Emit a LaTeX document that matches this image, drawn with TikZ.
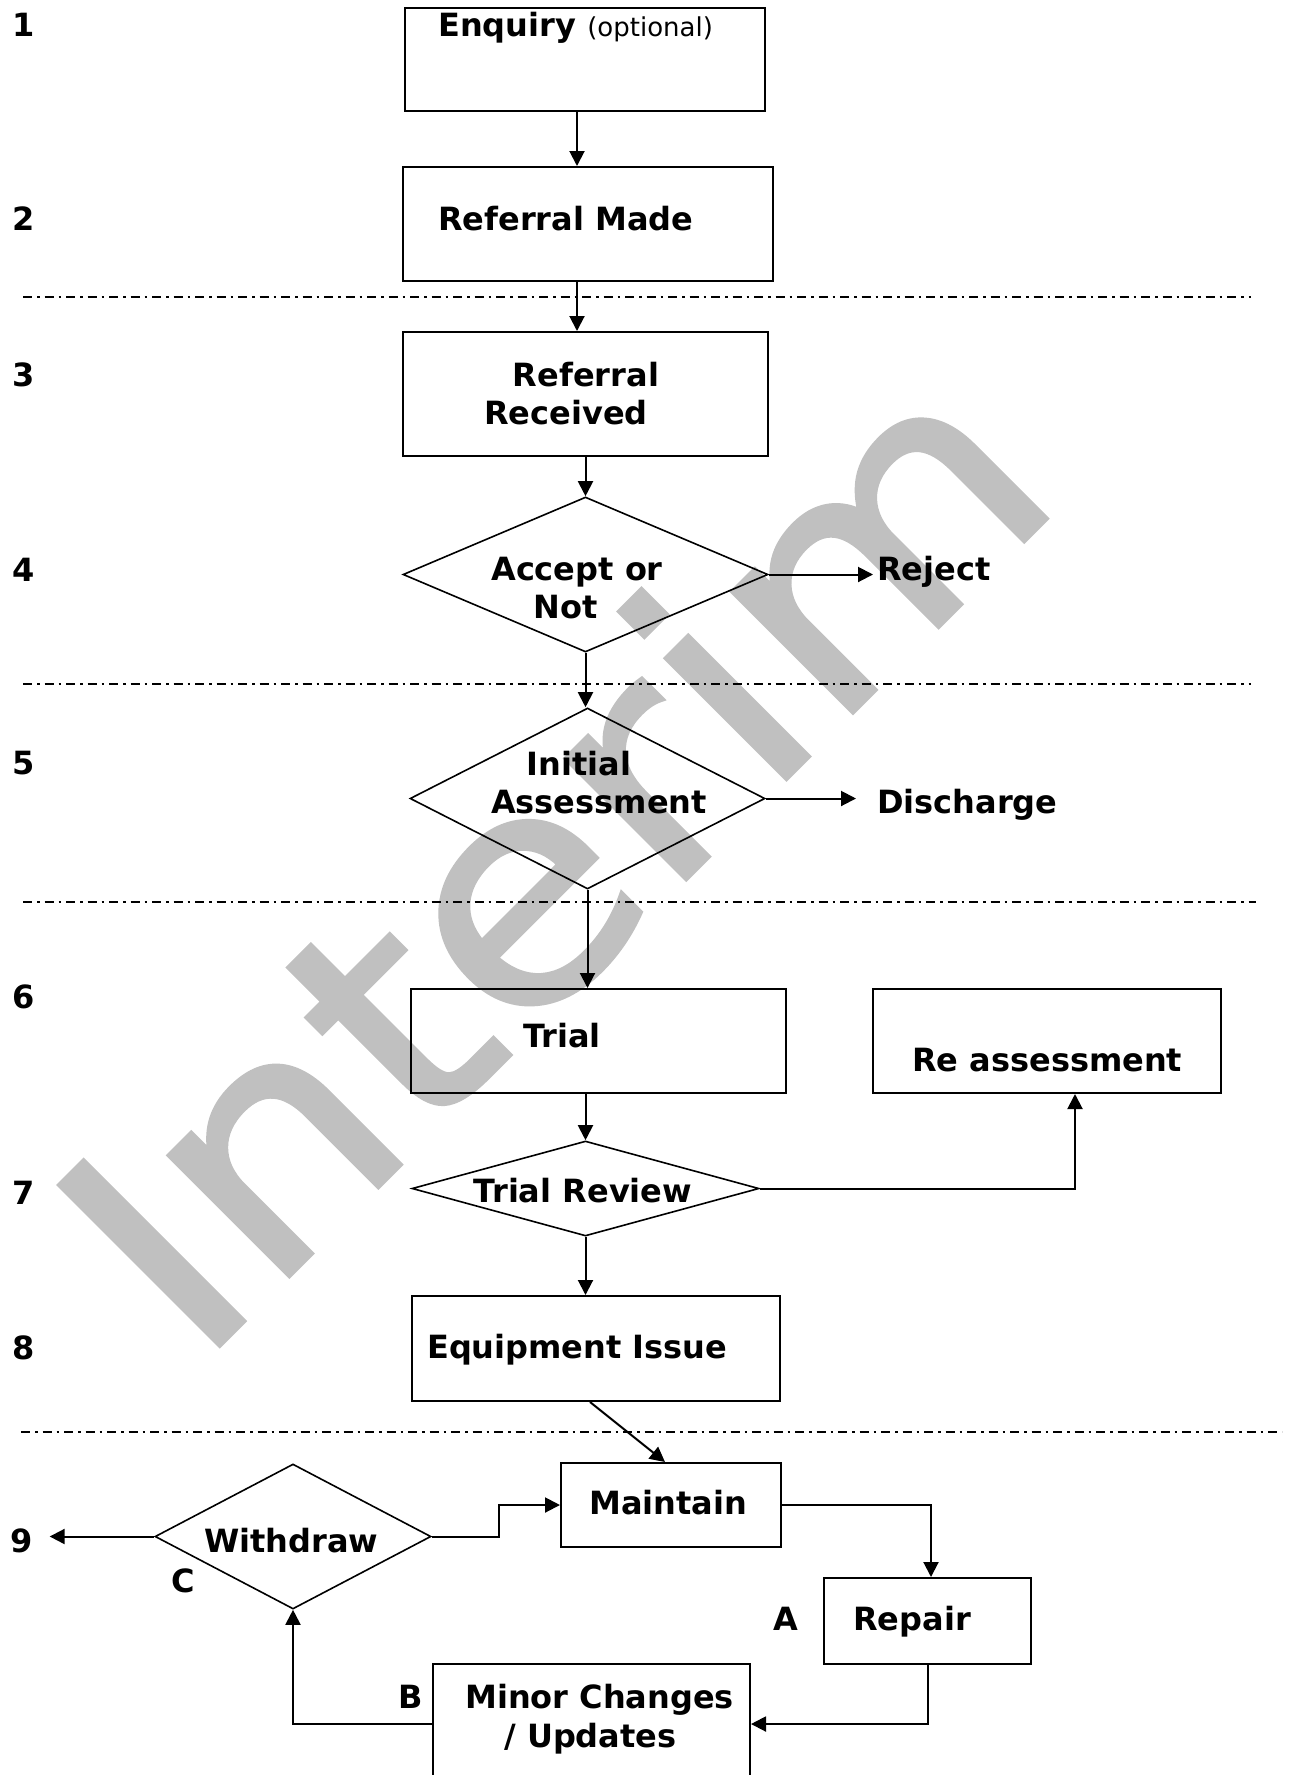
\documentclass[tikz,border=0pt]{standalone}
\usepackage{fontspec}
\setmainfont{DejaVu Sans}
\newfontfamily\wmfont[FakeBold=1.5]{DejaVu Sans}
\usetikzlibrary{arrows.meta,shapes.geometric}
\definecolor{wm}{RGB}{192,192,192}
\begin{document}
\begin{tikzpicture}[x=1pt,y=-1pt,
  box/.style={draw, line width=2pt, rectangle, inner sep=0pt},
  dia/.style={draw, line width=1.6pt, diamond, inner sep=0pt},
  txt/.style={font=\bfseries\fontsize{32}{38}\selectfont, inner sep=0pt},
  conn/.style={line width=2pt, -{Triangle[length=15pt,width=15pt]}},
  sep/.style={line width=1.5pt, dash pattern=on 9pt off 5pt on 2.5pt off 5pt}]
\useasboundingbox (0,0) rectangle (1288,1775);
\clip (0,0) rectangle (1288,1775);
\fill[white] (0,0) rectangle (1288,1775);
% watermark
\node[anchor=base west, rotate=45, inner sep=0pt, text=wm, font=\wmfont\mdseries\fontsize{311}{311}\selectfont] (wmk) at (196,1369) {\scalebox{1.1}[1]{Interim}};
% separators
\draw[sep] (23,297) -- (1251,297);
\draw[sep] (23,684) -- (1251,684);
\draw[sep] (23,902) -- (1256,902);
\draw[sep] (21,1432) -- (1282,1432);
% row numbers
\node[txt, anchor=base west] (n1) at (12,36) {1};
\node[txt, anchor=base west] (n2) at (12,230) {2};
\node[txt, anchor=base west] (n3) at (12,386) {3};
\node[txt, anchor=base west] (n4) at (12,581) {4};
\node[txt, anchor=base west] (n5) at (12,774) {5};
\node[txt, anchor=base west] (n6) at (12,1008) {6};
\node[txt, anchor=base west] (n7) at (12,1204) {7};
\node[txt, anchor=base west] (n8) at (12,1359) {8};
\node[txt, anchor=base west] (n9) at (10,1552) {9};
% boxes
\node[box, minimum width=360pt, minimum height=103pt] (enq) at (585,59.5) {};
\node[box, minimum width=370pt, minimum height=114pt] (rm) at (588,224) {};
\node[box, minimum width=365pt, minimum height=124pt] (rr) at (585.5,394) {};
\node[dia, minimum width=365pt, minimum height=155pt] (acc) at (585.5,574.5) {};
\node[dia, minimum width=355pt, minimum height=181pt] (ini) at (587.5,798.5) {};
\node[box, minimum width=375pt, minimum height=104pt] (trial) at (598.5,1041) {};
\node[box, minimum width=348pt, minimum height=104pt] (reas) at (1047,1041) {};
\node[dia, minimum width=347pt, minimum height=95pt] (trv) at (585.5,1188.5) {};
\node[box, minimum width=368pt, minimum height=105pt] (eq) at (596,1348.5) {};
\node[box, minimum width=220pt, minimum height=84pt] (mt) at (671,1505) {};
\node[dia, minimum width=276pt, minimum height=145pt] (wd) at (293,1536.5) {};
\node[box, minimum width=207pt, minimum height=86pt] (rep) at (927.5,1621) {};
\node[box, minimum width=317pt, minimum height=126pt] (mc) at (591.5,1727) {};
% texts
\node[txt, anchor=base west] (tenq) at (438,36) {Enquiry {\mdseries\fontsize{26}{30}\selectfont (optional)}};
\node[txt, anchor=base west] (trm) at (438,230) {Referral Made};
\node[txt, anchor=base] (trr1) at (586,386) {Referral};
\node[txt, anchor=base west] (trr2) at (484,424) {Received};
\node[txt, anchor=base] (tacc1) at (577,580) {Accept or};
\node[txt, anchor=base] (tacc2) at (566,618) {Not};
\node[txt, anchor=base west] (rej) at (877,580) {Reject};
\node[txt, anchor=base] (tini1) at (579,775) {Initial};
\node[txt, anchor=base] (tini2) at (599,813) {Assessment};
\node[txt, anchor=base west] (dis) at (877,813) {Discharge};
\node[txt, anchor=base west] (ttr) at (523,1047) {Trial};
\node[txt, anchor=base west] (treas) at (912,1071) {Re assessment};
\node[txt, anchor=base] (ttrv) at (583,1202) {Trial Review};
\node[txt, anchor=base west] (teq) at (427,1358) {Equipment Issue};
\node[txt, anchor=base west] (tmt) at (589,1514) {Maintain};
\node[txt, anchor=base west] (twd) at (204,1552) {Withdraw};
\node[txt, anchor=base west] (trep) at (853,1630) {Repair};
\node[txt, anchor=base west] (la) at (773,1630) {A};
\node[txt, anchor=base west] (tmc1) at (465,1708) {Minor Changes};
\node[txt, anchor=base west] (tmc2) at (504,1747) {/ Updates};
\node[txt, anchor=base west] (lb) at (398,1708) {B};
\node[txt, anchor=base west] (lc) at (171,1592) {C};
% connectors
\draw[conn] ([xshift=-8pt]enq.south) -- ([xshift=-11pt]rm.north);
\draw[conn] ([xshift=-11pt]rm.south) -- ([xshift=-8.5pt]rr.north);
\draw[conn] (rr.south -| acc.north) -- (acc.north);
\draw[conn] (acc.east) -- ([xshift=-4pt]acc.east -| rej.west);
\draw[conn] (acc.south) -- (acc.south |- ini.north);
\draw[conn] (ini.east) -- ([xshift=-21pt]ini.east -| dis.west);
\draw[conn] (ini.south) -- (ini.south |- trial.north);
\draw[conn] (trv.north |- trial.south) -- (trv.north);
\draw[conn] (trv.east) -| ([xshift=28pt]reas.south);
\draw[conn] (trv.south) -- (trv.south |- eq.north);
\draw[conn] ([xshift=-6pt]eq.south) -- ([xshift=-6pt]mt.north);
\draw[conn] (wd.east) -- ++(67,0) |- (mt.west);
\draw[conn] (mt.east) -| ([xshift=3.5pt]rep.north);
\draw[conn] (rep.south) |- ([yshift=3pt]mc.east);
\draw[conn] ([yshift=3pt]mc.west) -| (wd.south);
\draw[conn] (wd.west) -- ([xshift=17pt]wd.west -| n9.east);
\end{tikzpicture}
\end{document}
